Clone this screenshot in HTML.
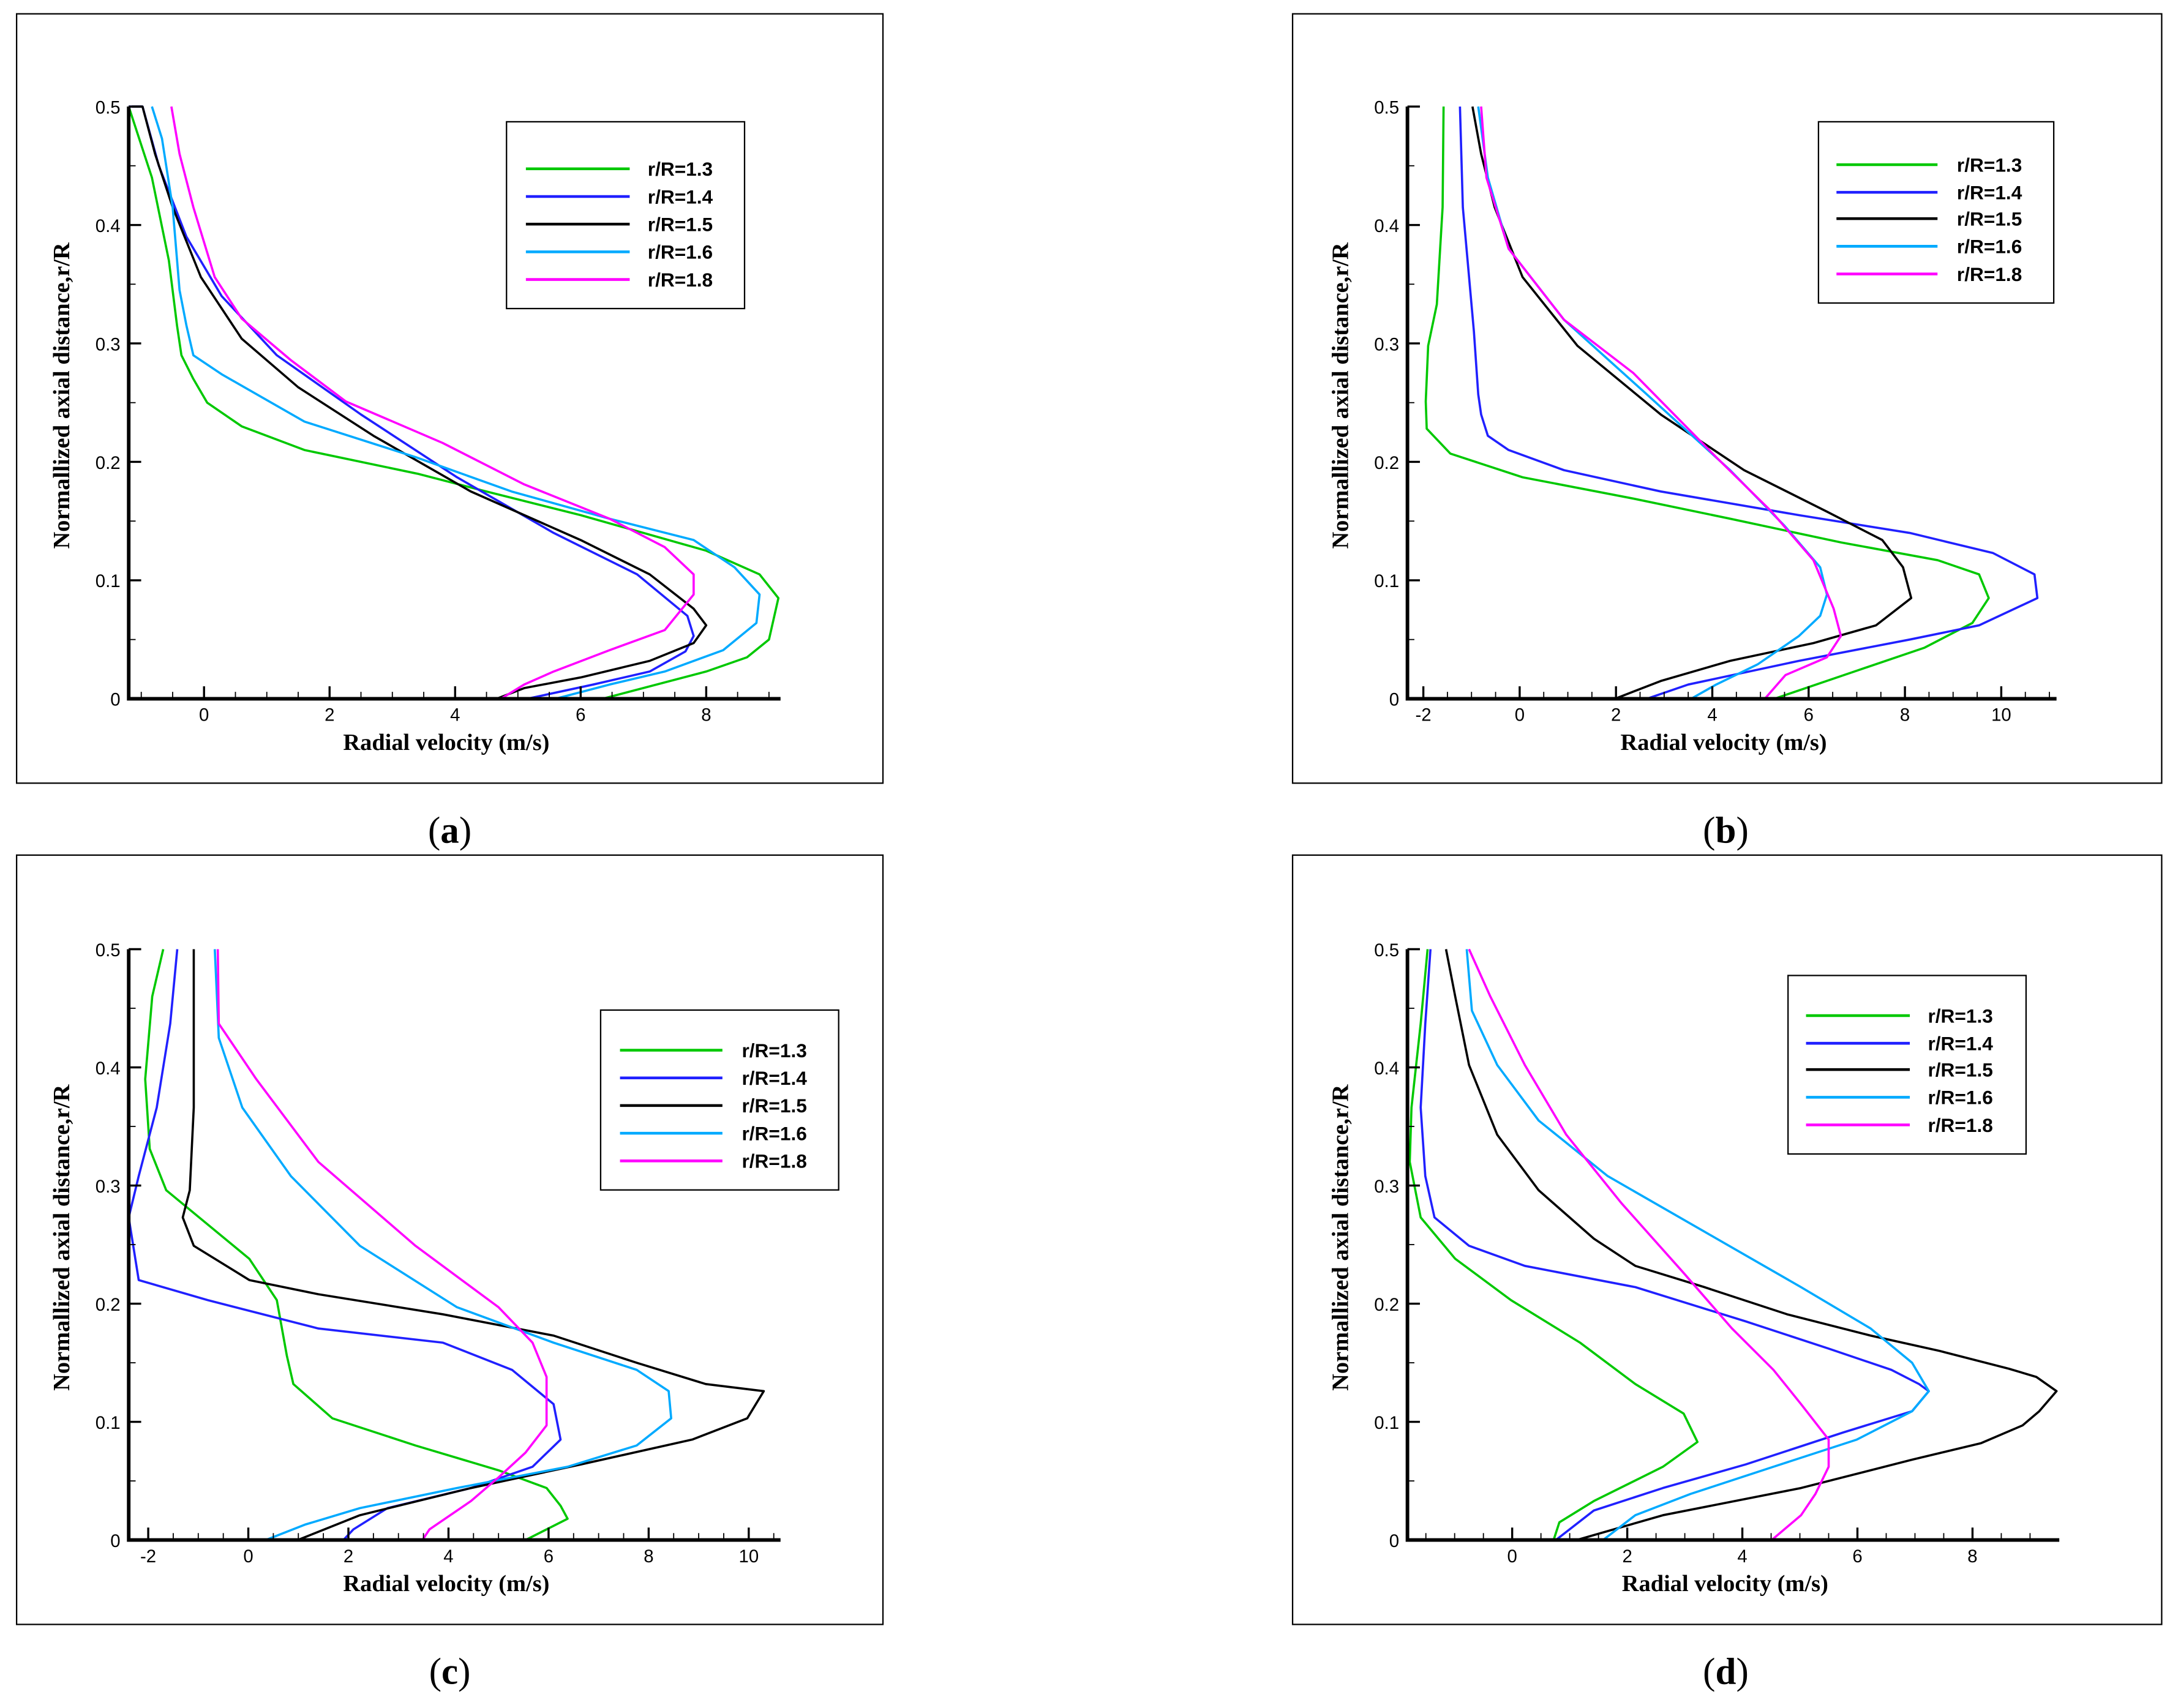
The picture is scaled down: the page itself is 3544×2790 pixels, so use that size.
<!DOCTYPE html>
<html><head><meta charset="utf-8"><style>html,body{margin:0;padding:0;background:#fff}svg{display:block}</style></head>
<body>
<svg id="fig" xmlns="http://www.w3.org/2000/svg" width="3544" height="2790" viewBox="0 0 1568 1234.4"></svg>
<script>
const seriesNames = ["r/R=1.3","r/R=1.4","r/R=1.5","r/R=1.6","r/R=1.8"];
const seriesColors = ["#00c800","#2020ff","#000000","#00aaff","#ff00ff"];
const yTicks = [0,0.1,0.2,0.3,0.4,0.5];
const yTickLabels = ["0","0.1","0.2","0.3","0.4","0.5"];

// Panel (a)
const a13 = [[-1.2,0.5],[-0.83,0.44],[-0.56,0.37],[-0.43,0.315],[-0.36,0.29],[-0.17,0.27],[0.05,0.25],[0.6,0.23],[1.6,0.21],[3.4,0.19],[4.5,0.175],[6,0.155],[8,0.125],[8.85,0.105],[9.15,0.085],[9.0,0.05],[8.65,0.035],[8.0,0.023],[6.35,0]];
const a14 = [[-1.2,0.5],[-0.98,0.5],[-0.72,0.45],[-0.28,0.39],[0.28,0.34],[1.16,0.29],[2.5,0.24],[4.03,0.187],[5.57,0.14],[6.9,0.105],[7.7,0.07],[7.8,0.053],[7.67,0.04],[7.1,0.023],[6.2,0.012],[5.15,0]];
const a15 = [[-1.15,0.5],[-0.98,0.5],[-0.78,0.46],[-0.5,0.415],[-0.05,0.356],[0.6,0.304],[1.5,0.263],[2.7,0.222],[4.25,0.175],[6.0,0.134],[7.1,0.105],[7.8,0.076],[8.0,0.062],[7.8,0.047],[7.1,0.032],[6.0,0.018],[5.1,0.009],[4.66,0]];
const a16 = [[-0.83,0.5],[-0.67,0.473],[-0.5,0.415],[-0.39,0.345],[-0.28,0.315],[-0.17,0.29],[0.28,0.274],[1.6,0.234],[3.37,0.204],[4.9,0.175],[6.46,0.152],[7.8,0.134],[8.45,0.111],[8.85,0.088],[8.8,0.064],[8.27,0.041],[7.34,0.023],[6.46,0.012],[5.6,0]];
const a18 = [[-0.52,0.5],[-0.39,0.46],[-0.17,0.415],[0.17,0.356],[0.6,0.321],[1.38,0.286],[2.26,0.251],[3.8,0.216],[5.1,0.181],[6.46,0.152],[7.34,0.128],[7.8,0.105],[7.8,0.088],[7.34,0.058],[6.46,0.041],[5.57,0.023],[5.1,0.012],[4.73,0]];
// Panel (b)
const b13 = [[-1.58,0.5],[-1.6,0.415],[-1.72,0.333],[-1.9,0.298],[-1.95,0.251],[-1.93,0.228],[-1.44,0.207],[0.06,0.187],[2.36,0.169],[4.37,0.152],[6.67,0.132],[8.68,0.117],[9.54,0.105],[9.74,0.085],[9.4,0.064],[8.4,0.043],[6.95,0.023],[5.29,0]];
const b14 = [[-1.24,0.5],[-1.18,0.415],[-0.95,0.31],[-0.86,0.257],[-0.8,0.24],[-0.66,0.222],[-0.23,0.21],[0.92,0.193],[2.93,0.175],[5.8,0.155],[8.1,0.14],[9.83,0.123],[10.69,0.105],[10.75,0.085],[9.54,0.062],[8.1,0.05],[5.8,0.032],[3.5,0.012],[2.64,0]];
const b15 = [[-0.98,0.5],[-0.8,0.46],[-0.52,0.415],[0.06,0.356],[1.2,0.298],[2.93,0.24],[4.66,0.193],[6.38,0.158],[7.53,0.134],[7.96,0.111],[8.13,0.085],[7.4,0.062],[6.1,0.047],[4.37,0.032],[2.93,0.015],[1.98,0]];
const b16 = [[-0.86,0.5],[-0.66,0.44],[-0.23,0.38],[0.92,0.32],[2.64,0.257],[4.37,0.193],[5.5,0.146],[6.24,0.111],[6.38,0.088],[6.24,0.07],[5.8,0.053],[4.94,0.029],[4.08,0.012],[3.56,0]];
const b18 = [[-0.8,0.5],[-0.69,0.44],[-0.23,0.38],[0.92,0.32],[2.36,0.275],[4.08,0.204],[5.23,0.158],[6.1,0.117],[6.52,0.076],[6.67,0.053],[6.38,0.035],[5.52,0.02],[5.09,0]];
// Panel (c)
const c13 = [[-1.7,0.5],[-1.92,0.46],[-2.06,0.39],[-1.97,0.331],[-1.64,0.296],[-0.81,0.267],[0.02,0.238],[0.57,0.203],[0.77,0.156],[0.9,0.132],[1.68,0.103],[3.34,0.08],[5.0,0.059],[5.96,0.044],[6.24,0.029],[6.38,0.018],[5.96,0.009],[5.54,0]];
const c14 = [[-1.42,0.5],[-1.56,0.437],[-1.83,0.366],[-2.19,0.308],[-2.39,0.273],[-2.19,0.22],[-0.81,0.203],[1.4,0.179],[3.89,0.167],[5.27,0.144],[6.1,0.115],[6.24,0.085],[5.68,0.062],[4.45,0.044],[2.78,0.027],[2.1,0.009],[1.9,0]];
const c15 = [[-1.09,0.5],[-1.09,0.366],[-1.17,0.296],[-1.31,0.273],[-1.09,0.249],[0.02,0.22],[1.4,0.208],[3.89,0.191],[6.1,0.173],[7.76,0.15],[9.14,0.132],[10.3,0.126],[9.97,0.103],[8.87,0.085],[6.65,0.064],[4.45,0.044],[2.23,0.021],[0.99,0]];
const c16 = [[-0.67,0.5],[-0.59,0.425],[-0.12,0.366],[0.85,0.308],[2.23,0.249],[4.17,0.197],[6.1,0.167],[7.76,0.144],[8.4,0.126],[8.45,0.103],[7.76,0.08],[6.38,0.062],[4.17,0.044],[2.23,0.027],[1.13,0.013],[0.35,0]];
const c18 = [[-0.61,0.5],[-0.59,0.437],[0.16,0.39],[1.4,0.32],[3.34,0.249],[5.0,0.197],[5.68,0.167],[5.96,0.138],[5.96,0.097],[5.54,0.074],[5.0,0.053],[4.45,0.033],[3.62,0.009],[3.48,0]];
// Panel (d)
const d13 = [[-1.47,0.5],[-1.59,0.437],[-1.75,0.366],[-1.78,0.32],[-1.59,0.273],[-0.99,0.238],[-0.02,0.203],[1.18,0.167],[2.14,0.132],[2.98,0.107],[3.22,0.083],[2.62,0.062],[1.42,0.033],[0.82,0.015],[0.72,0]];
const d14 = [[-1.42,0.5],[-1.51,0.437],[-1.59,0.366],[-1.51,0.308],[-1.35,0.273],[-0.75,0.249],[0.22,0.232],[2.14,0.214],[4.06,0.185],[5.5,0.162],[6.59,0.144],[7.07,0.132],[7.24,0.126],[6.95,0.109],[5.75,0.091],[4.06,0.064],[2.62,0.044],[1.42,0.025],[0.76,0]];
const d15 = [[-1.15,0.5],[-0.99,0.46],[-0.75,0.402],[-0.26,0.343],[0.46,0.296],[1.42,0.255],[2.14,0.232],[3.34,0.214],[4.78,0.191],[6.23,0.173],[7.43,0.16],[8.63,0.145],[9.11,0.138],[9.46,0.126],[9.16,0.109],[8.87,0.097],[8.15,0.082],[6.95,0.068],[5.02,0.044],[2.62,0.021],[1.12,0]];
const d16 = [[-0.79,0.5],[-0.7,0.448],[-0.26,0.402],[0.46,0.355],[1.66,0.308],[3.34,0.261],[5.02,0.214],[6.23,0.179],[6.95,0.15],[7.24,0.126],[6.95,0.109],[5.99,0.085],[4.54,0.062],[3.1,0.039],[2.14,0.021],[1.58,0]];
const d18 = [[-0.75,0.5],[-0.38,0.46],[0.22,0.402],[0.94,0.343],[1.9,0.285],[2.98,0.226],[3.82,0.179],[4.54,0.144],[5.02,0.115],[5.5,0.085],[5.5,0.062],[5.27,0.039],[5.02,0.021],[4.51,0]];

const xTicksA = [0,2,4,6,8];
const xTicksB = [-2,0,2,4,6,8,10];
const xTicksC = [-2,0,2,4,6,8,10];
const xTicksD = [0,2,4,6,8];

const panels = [
 {id:"a", frame:[12,10,638,566], plot:[93,77,562,505], xmin:-1.2, xmax:9.14, xticks:xTicksA, series:[a13,a14,a15,a16,a18], legend:[366,88,538,223,380,455,468,[122,142,162,182,202]], cap:[325,600]},
 {id:"b", frame:[934,10,1562,566], plot:[1017,77,1484,505], xmin:-2.33, xmax:11.09, xticks:xTicksB, series:[b13,b14,b15,b16,b18], legend:[1314,88,1484,219,1327,1400,1414,[119,139,158,178,198]], cap:[1247,600]},
 {id:"c", frame:[12,618,638,1174], plot:[93,686,562,1113], xmin:-2.39, xmax:10.58, xticks:xTicksC, series:[c13,c14,c15,c16,c18], legend:[434,730,606,860,448,522,536,[759,779,799,819,839]], cap:[325,1208]},
 {id:"d", frame:[934,618,1562,1174], plot:[1017,686,1486,1113], xmin:-1.82, xmax:9.46, xticks:xTicksD, series:[d13,d14,d15,d16,d18], legend:[1292,705,1464,834,1305,1380,1393,[734,754,773,793,813]], cap:[1247,1208]}
];

const NS="http://www.w3.org/2000/svg";
const svg=document.getElementById('fig');
function mk(tag,attrs,parent){const e=document.createElementNS(NS,tag);for(const k in attrs)e.setAttribute(k,attrs[k]);(parent||svg).appendChild(e);return e;}

panels.forEach(p=>{
  const g=mk('g',{});
  
  
  const [fx0,fy0,fx1,fy1]=p.frame;
  const fr=mk('rect',{x:fx0,y:fy0,width:fx1-fx0,height:fy1-fy0,fill:'#fff',stroke:'#000','stroke-width':1},g);
  
  
  const [px0,py0,px1,py1]=p.plot;
  const X=v=>px0+(v-p.xmin)/(p.xmax-p.xmin)*(px1-px0);
  const Y=v=>py1-v/0.5*(py1-py0);
  // series
  p.series.forEach((s,i)=>{
    const d=s.map((pt,j)=>(j?'L':'M')+X(pt[0]).toFixed(2)+' '+Y(pt[1]).toFixed(2)).join(' ');
    const path=mk('path',{d:d,fill:'none',stroke:seriesColors[i],'stroke-width':1.6,'stroke-linejoin':'round'},g);
    
    
  });
  // x minor/major ticks
  for(let v=Math.ceil(p.xmin*2)/2; v<=p.xmax+1e-9; v+=0.5){
    const major=Math.abs(v/2-Math.round(v/2))<1e-6;
    mk('line',{x1:X(v),x2:X(v),y1:py1,y2:py1-(major?9:5),stroke:'#000','stroke-width':major?1.5:0.8},g);
  }
  p.xticks.forEach(v=>{
    const t=mk('text',{x:X(v),y:py1+16,'font-family':'Liberation Sans, sans-serif','font-size':13,'text-anchor':'middle'},g);
    t.textContent=String(v);
    
    
  });
  for(let v=0; v<=0.5001; v+=0.05){
    const major=Math.abs(v*10-Math.round(v*10))<1e-6;
    mk('line',{x1:px0,x2:px0+(major?9:5),y1:Y(v),y2:Y(v),stroke:'#000','stroke-width':major?1.5:0.8},g);
  }
  yTicks.forEach((v,i)=>{
    const t=mk('text',{x:px0-6,y:Y(v)+5,'font-family':'Liberation Sans, sans-serif','font-size':13,'text-anchor':'end'},g);
    t.textContent=yTickLabels[i];
    
    
  });
  // axes
  mk('path',{d:`M${px0} ${py0} L${px0} ${py1} L${px1+2} ${py1}`,fill:'none',stroke:'#000','stroke-width':2.6},g);
  const xt=mk('text',{x:(px0+px1)/2-5,y:py1+37,'font-family':'Liberation Serif, serif','font-size':17,'font-weight':'bold','text-anchor':'middle'},g);
  xt.textContent='Radial velocity (m/s)';
  
  
  const yx=px0-43, yy=(py0+py1)/2-5;
  const yt=mk('text',{x:yx,y:yy,transform:`rotate(-90 ${yx} ${yy})`,'font-family':'Liberation Serif, serif','font-size':17,'font-weight':'bold','text-anchor':'middle'},g);
  yt.textContent='Normallized axial distance,r/R';
  
  
  // legend
  const [lx0,ly0,lx1,ly1,sx0,sx1,tx,rows]=p.legend;
  const lg=mk('g',{},g);
  
  
  mk('rect',{x:lx0,y:ly0,width:lx1-lx0,height:ly1-ly0,fill:'#fff',stroke:'#000','stroke-width':1},lg);
  seriesNames.forEach((n,i)=>{
    const e=mk('g',{},lg);
    
    
    mk('line',{x1:sx0,x2:sx1,y1:rows[i],y2:rows[i],stroke:seriesColors[i],'stroke-width':2},e);
    const t=mk('text',{x:tx,y:rows[i]+5,'font-family':'Liberation Sans, sans-serif','font-size':14,'font-weight':'bold'},e);
    t.textContent=n;
  });
  const cap=mk('text',{x:p.cap[0],y:p.cap[1]+9,'font-family':'Liberation Serif, serif','font-size':27,'text-anchor':'middle'},svg);
  
  
  cap.innerHTML='(<tspan font-weight="bold">'+p.id+'</tspan>)';
});
</script>
</body></html>
